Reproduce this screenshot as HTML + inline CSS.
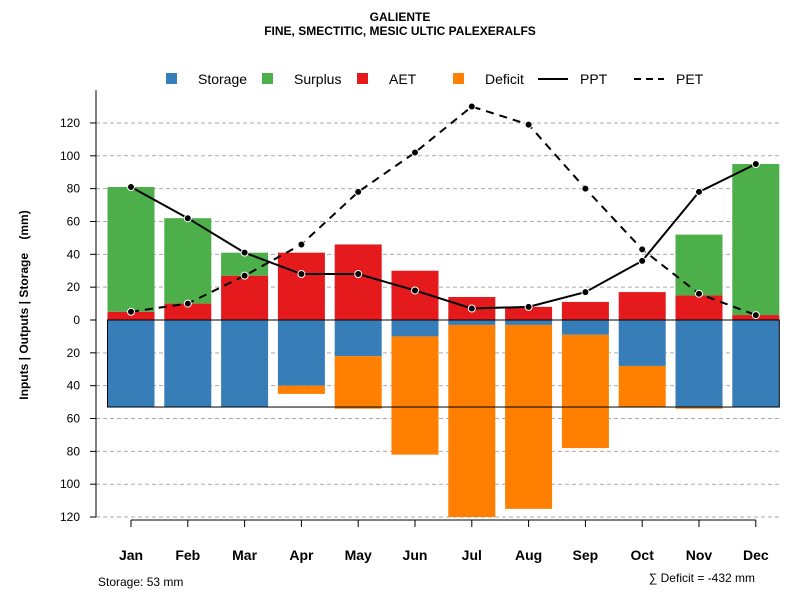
<!DOCTYPE html>
<html><head><meta charset="utf-8"><style>
body{margin:0;background:#fff;font-family:"Liberation Sans",sans-serif}
svg text{font-family:"Liberation Sans",sans-serif}
</style></head><body>
<svg id="c" width="800" height="600">
<text x="400" y="21" text-anchor="middle" font-size="12" font-weight="bold">GALIENTE</text>
<text x="400" y="35" text-anchor="middle" font-size="12" font-weight="bold">FINE, SMECTITIC, MESIC ULTIC PALEXERALFS</text>
<text transform="translate(28,305) rotate(-90)" text-anchor="middle" font-size="12" font-weight="bold">Inputs | Outputs | Storage&#160;&#160;&#160;&#160;(mm)</text>
<text x="98" y="586" font-size="12">Storage: 53 mm</text>
<text x="755" y="582" text-anchor="end" font-size="12">∑ Deficit = -432 mm</text>
<g id="legend">
<rect x="166" y="73" width="11" height="11" fill="#377EB8"/><text x="198" y="84" font-size="14">Storage</text>
<rect x="262" y="73" width="11" height="11" fill="#4DAF4A"/><text x="294" y="84" font-size="14">Surplus</text>
<rect x="357" y="73" width="11" height="11" fill="#E41A1C"/><text x="389" y="84" font-size="14">AET</text>
<rect x="453" y="73" width="11" height="11" fill="#FF7F00"/><text x="485" y="84" font-size="14">Deficit</text>
<line x1="538" y1="79" x2="568" y2="79" stroke="#000" stroke-width="2"/><text x="580" y="84" font-size="14">PPT</text>
<line x1="634" y1="79" x2="664" y2="79" stroke="#000" stroke-width="2" stroke-dasharray="7,5"/><text x="676" y="84" font-size="14">PET</text>
</g>
</svg>
<script>
const months=["Jan","Feb","Mar","Apr","May","Jun","Jul","Aug","Sep","Oct","Nov","Dec"];
const ppt=[81,62,41,28,28,18,7,8,17,36,78,95];
const pet=[5,10,27,46,78,102,130,119,80,43,16,3];
const aet=[5,10,27,41,46,30,14,8,11,17,15,3];
const surplus=[76,52,14,0,0,0,0,0,0,0,37,92];
const storage=[53,53,53,40,22,10,3,3,9,28,53,53];
const deficit=[0,0,0,5,32,72,117,112,69,25,1,0];
const yTicks=[120,100,80,60,40,20,0,20,40,60,80,100,120];
const yTickVals=[120,100,80,60,40,20,0,-20,-40,-60,-80,-100,-120];
const storageCap=53;
const NS="http://www.w3.org/2000/svg";
const svg=document.getElementById('c');
const x=i=>131+i*56.8;
const y=v=>320-v*1.642;
const bw=47;
function mk(t,a,p){const e=document.createElementNS(NS,t);for(const k in a)e.setAttribute(k,a[k]);(p||svg).appendChild(e);return e;}
const g=mk('g',{});
yTickVals.forEach((v,i)=>{
 if(v!==0){const l=mk('line',{x1:96,x2:780,y1:y(v),y2:y(v),stroke:'#aaa','stroke-dasharray':'4,3'},g);
 
 }
 const t=mk('line',{x1:90,x2:96,y1:y(v),y2:y(v),stroke:'#000'});
 
 
 const tx=mk('text',{x:80,y:y(v)+4,'text-anchor':'end','font-size':12});
 tx.textContent=yTicks[i];
 
 
});
const ya=mk('line',{x1:96,x2:96,y1:y(140),y2:y(-120),stroke:'#000'});


months.forEach((m,i)=>{
 const cx=x(i);
 function bar(top,bot,fill,name){const r=mk('rect',{x:cx-bw/2,y:y(top),width:bw,height:Math.max(0,y(bot)-y(top)),fill});
 
 }
 bar(aet[i],0,'#E41A1C','bar-aet-'+m.toLowerCase());
 if(surplus[i]>0)bar(aet[i]+surplus[i],aet[i],'#4DAF4A','bar-surplus-'+m.toLowerCase());
 bar(0,-storage[i],'#377EB8','bar-storage-'+m.toLowerCase());
 if(deficit[i]>0)bar(-storage[i],-storage[i]-deficit[i],'#FF7F00','bar-deficit-'+m.toLowerCase());
 const t=mk('line',{x1:cx,x2:cx,y1:520,y2:527,stroke:'#000'});
 
 
 const tx=mk('text',{x:cx,y:560,'text-anchor':'middle','font-size':14,'font-weight':'bold'});
 tx.textContent=m;
 
 
});
const xa=mk('line',{x1:x(0),x2:x(11),y1:520,y2:520,stroke:'#000'});


const box=mk('rect',{x:x(0)-bw/2,y:y(0),width:x(11)-x(0)+bw,height:y(-storageCap)-y(0),fill:'none',stroke:'#000'});


function line(arr,dash,name){
 const p=mk('polyline',{points:arr.map((v,i)=>x(i)+','+y(v)).join(' '),fill:'none',stroke:'#000','stroke-width':2,'stroke-dasharray':dash});
 
 
 arr.forEach((v,i)=>{const c=mk('circle',{cx:x(i),cy:y(v),r:3.5,fill:'#000',stroke:'#fff','stroke-width':1});
 
 });
}
line(ppt,'none','ppt');
line(pet,'8,6','pet');
</script>
</body></html>
